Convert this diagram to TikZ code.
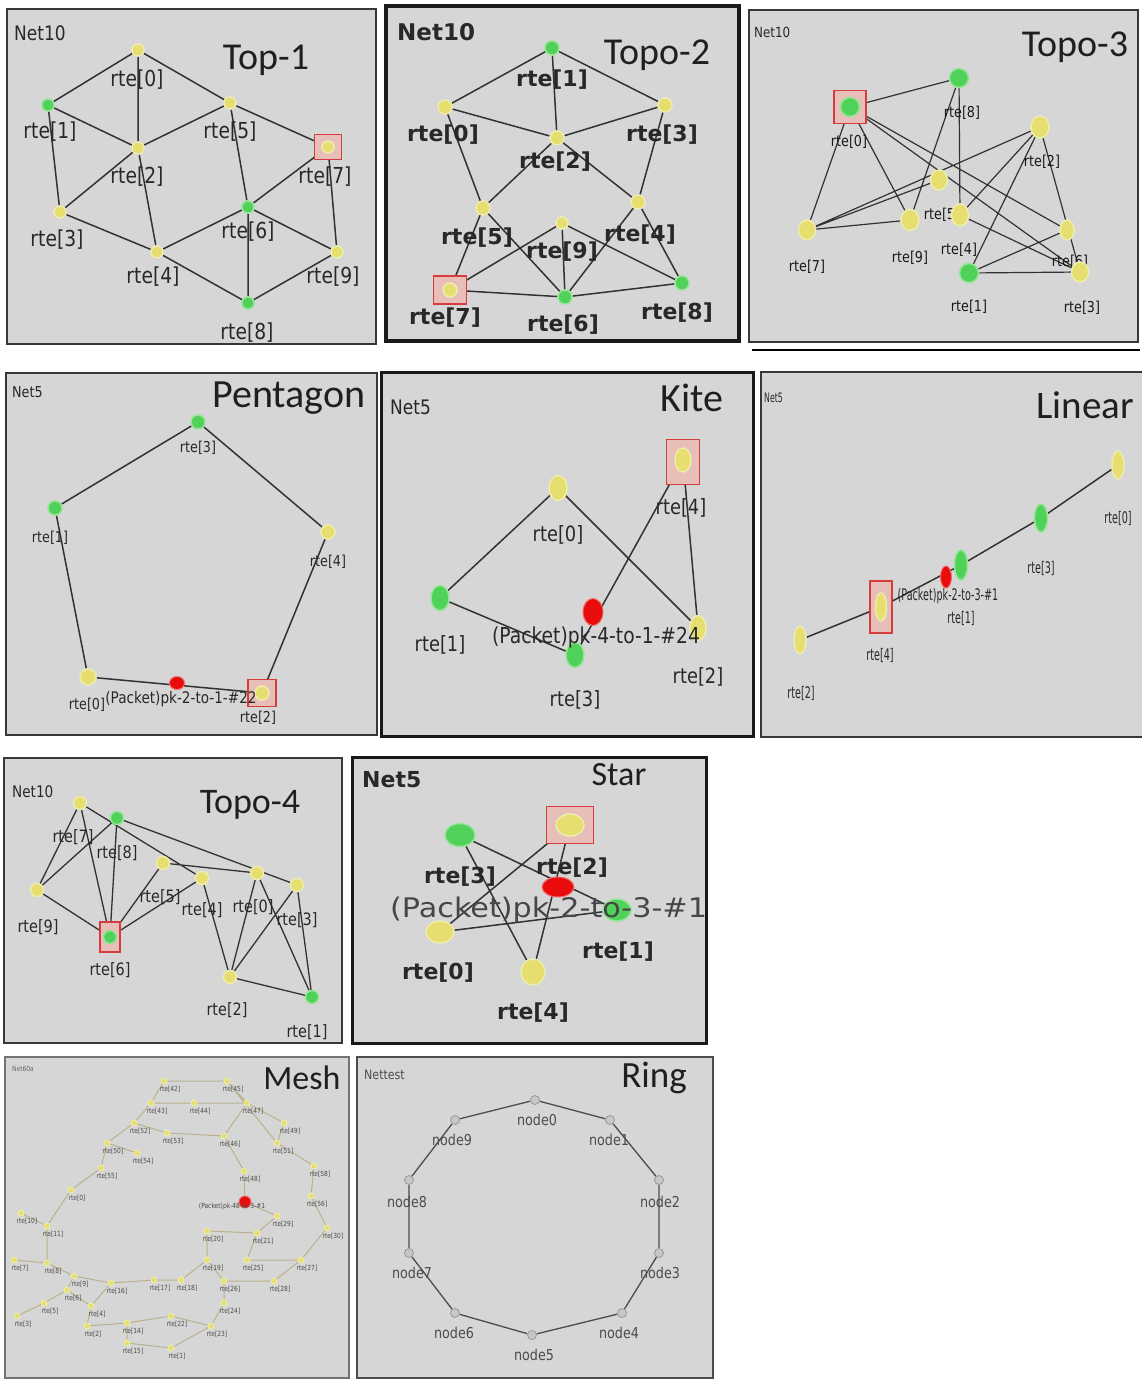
\documentclass[tikz,border=0pt]{standalone}
\usepackage{fontspec}
\setmainfont{DejaVu Sans}
\newfontfamily\tfont{Carlito}
\newfontfamily\cfont[FakeStretch=0.85]{DejaVu Sans}
\newfontfamily\nfont[FakeStretch=0.6]{DejaVu Sans}
\newfontfamily\wfont[FakeStretch=1.12]{DejaVu Sans}
\usetikzlibrary{shapes.geometric}
\newcommand\fs[1]{\fontsize{#1}{#1}\selectfont}
\definecolor{panelgray}{RGB}{214,214,214}
\definecolor{ynode}{RGB}{230,222,110}
\definecolor{yhalo}{RGB}{238,236,175}
\definecolor{gnode}{RGB}{80,210,90}
\definecolor{ghalo}{RGB}{150,228,150}
\definecolor{rnode}{RGB}{232,12,12}
\definecolor{edgec}{RGB}{50,50,50}
\definecolor{labc}{RGB}{40,40,40}
\definecolor{redsqc}{RGB}{215,60,60}
\definecolor{redsqf}{RGB}{232,190,185}
\definecolor{meshc}{RGB}{185,178,140}
\pgfdeclarelayer{back}
\pgfdeclarelayer{mid}
\pgfsetlayers{back,mid,main}
\newcommand\mkn[5]{\node[#2] (#1) at (#3) {}; \node[lab] (#1l) at (#4) {#5};}
\newcommand\rsq[4]{\node[redsq,minimum width=#3pt,minimum height=#4pt] (#1) at (#2) {};}
\tikzset{
 panel/.style={fill=panelgray, draw=black!78, line width=2.5pt},
 yn/.style={circle, fill=ynode, draw=yhalo, line width=1.5pt, inner sep=0pt, minimum size=#1},
 yn/.default=12pt,
 gn/.style={circle, fill=gnode, draw=ghalo, line width=1.5pt, inner sep=0pt, minimum size=#1},
 gn/.default=12pt,
 rn/.style={circle, fill=rnode, draw=rnode!60, line width=1pt, inner sep=0pt, minimum size=#1},
 rn/.default=12pt,
 lnk/.style={draw=edgec, line width=1.5pt},
 redsq/.style={rectangle, draw=redsqc, fill=redsqf, line width=1.6pt, inner sep=0pt},
 title/.style={font=\tfont\fs{38}, text=black!88, inner sep=0pt},
 netl/.style={anchor=west, text=labc, inner sep=0pt},
 lab/.style={font=\cfont\fs{20}, text=labc, inner sep=0pt}
}
\begin{document}
\begin{tikzpicture}[x=1pt,y=-1pt]
\useasboundingbox (0,0) rectangle (1142,1381);
\begin{pgfonlayer}{back}
\fill[white] (0,0) rectangle (1142,1381);
\draw[panel] (7,9) rectangle (376,344);
\draw[panel, line width=3.5pt, draw=black!90] (386,6) rectangle (739,341);
\draw[panel, line width=2pt] (749,10) rectangle (1138,342);
\draw[black, line width=2.5pt] (752,350) -- (1140,350);
\draw[panel] (6,373) rectangle (377,735);
\draw[panel, line width=3pt, draw=black!90] (381,372) rectangle (753,736);
\draw[panel] (761,372) rectangle (1150,737);
\draw[panel] (4,758) rectangle (342,1043);
\draw[panel, line width=3pt, draw=black!90] (352,757) rectangle (706,1043);
\draw[panel, line width=2pt, draw=black!55] (5,1057) rectangle (349,1378);
\draw[panel, line width=2pt, draw=black!70] (357,1057) rectangle (713,1378);
\end{pgfonlayer}

% ---------- Top-1 ----------
\begin{scope}[lab/.style={font=\cfont\fs{22}, text=labc, inner sep=0pt}]
\node[netl, font=\cfont\fs{20}] (anet) at (14,33) {Net10};
\node[title] (atitle) at (266,60) {Top-1};
\rsq{a7s}{328,147}{27}{25}
\mkn{a0}{yn}{138,50}{137,80}{rte[0]}
\mkn{a1}{gn}{48,105}{50,132}{rte[1]}
\mkn{a5}{yn}{230,103}{230,132}{rte[5]}
\mkn{a7}{yn}{328,147}{325,177}{rte[7]}
\mkn{a2}{yn}{138,148}{137,177}{rte[2]}
\mkn{a3}{yn}{60,212}{57,240}{rte[3]}
\mkn{a6}{gn}{248,207}{248,232}{rte[6]}
\mkn{a4}{yn}{157,252}{153,277}{rte[4]}
\mkn{a9}{yn}{337,252}{333,277}{rte[9]}
\mkn{a8}{gn}{248,303}{247,333}{rte[8]}
\begin{pgfonlayer}{mid}
\draw[lnk] (a0)--(a1) (a0)--(a2) (a0)--(a5) (a1)--(a2) (a1)--(a3) (a2)--(a3)
 (a2)--(a5) (a2)--(a4) (a5)--(a7) (a5)--(a6) (a7)--(a6) (a7)--(a9) (a6)--(a4)
 (a6)--(a9) (a6)--(a8) (a3)--(a4) (a4)--(a8) (a9)--(a8);
\end{pgfonlayer}
\end{scope}

% ---------- Topo-2 ----------
\begin{scope}[lab/.style={font=\bfseries\fs{22}, text=labc, inner sep=0pt}]
\node[netl, font=\bfseries\fs{23}] (bnet) at (397,32) {Net10};
\node[title] (btitle) at (657,55) {Topo-2};
\rsq{b7s}{450,290}{33}{28}
\mkn{b1}{gn=14pt}{552,48}{552,80}{rte[1]}
\mkn{b0}{yn=14pt}{445,107}{443,135}{rte[0]}
\mkn{b3}{yn=14pt}{665,105}{662,135}{rte[3]}
\mkn{b2}{yn=14pt}{557,138}{555,162}{rte[2]}
\mkn{b5}{yn=14pt}{483,208}{477,238}{rte[5]}
\mkn{b4}{yn=14pt}{638,202}{640,235}{rte[4]}
\mkn{b9}{yn=12pt}{562,223}{562,252}{rte[9]}
\mkn{b7}{yn=14pt}{450,290}{445,318}{rte[7]}
\mkn{b6}{gn=14pt}{565,297}{563,325}{rte[6]}
\mkn{b8}{gn=14pt}{682,283}{677,313}{rte[8]}
\begin{pgfonlayer}{mid}
\draw[lnk] (b1)--(b0) (b1)--(b2) (b1)--(b3) (b0)--(b2) (b2)--(b3) (b0)--(b5)
 (b2)--(b5) (b2)--(b4) (b3)--(b4) (b5)--(b7) (b5)--(b6) (b9)--(b7) (b9)--(b6)
 (b9)--(b8) (b4)--(b6) (b4)--(b8) (b7)--(b6) (b6)--(b8);
\end{pgfonlayer}
\end{scope}

% ---------- Topo-3 ----------
\begin{scope}[lab/.style={font=\cfont\fs{15}, text=black!90, inner sep=0pt}, lnk/.style={draw=edgec, line width=1.2pt}]
\node[netl, font=\cfont\fs{14}] (cnet) at (754,32) {Net10};
\node[title] (ctitle) at (1075,47) {Topo-3};
\rsq{c0s}{850,107}{32}{33}
\mkn{c0}{gn=19pt}{850,107}{849,142}{rte[0]}
\mkn{c8}{gn=19pt}{959,78}{962,113}{rte[8]}
\mkn{c2}{yn,ellipse,minimum width=18pt,minimum height=22pt}{1040,127}{1042,162}{rte[2]}
\mkn{c5}{yn,ellipse,minimum width=17pt,minimum height=20pt}{939,180}{942,215}{rte[5]}
\mkn{c4}{yn,ellipse,minimum width=17pt,minimum height=22pt}{960,215}{959,250}{rte[4]}
\mkn{c9}{yn,ellipse,minimum width=18pt,minimum height=21pt}{910,220}{910,258}{rte[9]}
\mkn{c7}{yn,ellipse,minimum width=17pt,minimum height=20pt}{807,230}{807,267}{rte[7]}
\mkn{c6}{yn,ellipse,minimum width=14pt,minimum height=20pt}{1067,230}{1070,262}{rte[6]}
\mkn{c1}{gn=19pt}{969,273}{969,307}{rte[1]}
\mkn{c3}{yn,ellipse,minimum width=17pt,minimum height=20pt}{1080,272}{1082,308}{rte[3]}
\begin{pgfonlayer}{mid}
\draw[lnk] (c0)--(c8) (c0)--(c7) (c0)--(c9) (c0)--(c6) (c0)--(c3) (c8)--(c9)
 (c8)--(c4) (c2)--(c7) (c2)--(c4) (c2)--(c1) (c2)--(c3) (c7)--(c9) (c7)--(c5)
 (c1)--(c6) (c1)--(c3) (c4)--(c3);
\end{pgfonlayer}
\end{scope}

% ---------- Pentagon ----------
\begin{scope}[lab/.style={font=\cfont\fs{15}, text=labc, inner sep=0pt}]
\node[netl, font=\cfont\fs{15}] (dnet) at (12,392) {Net5};
\node[title, font=\tfont\fs{40}] (dtitle) at (289,398) {Pentagon};
\rsq{d2s}{262,693}{28}{27}
\mkn{d3}{gn=14pt}{198,422}{198,448}{rte[3]}
\mkn{d1}{gn=14pt}{55,508}{50,538}{rte[1]}
\mkn{d4}{yn=14pt}{328,532}{328,562}{rte[4]}
\mkn{d0}{yn=16pt}{88,677}{87,705}{rte[0]}
\mkn{d2}{yn=14pt}{262,693}{258,718}{rte[2]}
\node[rn, ellipse, minimum width=15pt, minimum height=13pt] (dp) at (177,683) {};
\node[lab, font=\cfont\fs{16}] (dpl) at (181,699) {(Packet)pk-2-to-1-\#22};
\begin{pgfonlayer}{mid}
\draw[lnk] (d3)--(d1) (d3)--(d4) (d1)--(d0) (d4)--(d2) (d0)--(d2);
\end{pgfonlayer}
\end{scope}

% ---------- Kite ----------
\begin{scope}[lab/.style={font=\cfont\fs{21}, text=labc, inner sep=0pt}]
\node[netl, font=\cfont\fs{20}] (enet) at (390,407) {Net5};
\node[title, font=\tfont\fs{40}] (etitle) at (692,398) {Kite};
\rsq{e4s}{683,462}{33}{45}
\mkn{e0}{yn,ellipse,minimum width=18pt,minimum height=25pt}{558,488}{558,535}{rte[0]}
\mkn{e4}{yn,ellipse,minimum width=16pt,minimum height=24pt}{683,460}{681,508}{rte[4]}
\mkn{e1}{gn,ellipse,minimum width=18pt,minimum height=25pt}{440,598}{440,645}{rte[1]}
\mkn{e3}{gn,ellipse,minimum width=18pt,minimum height=25pt}{575,655}{575,700}{rte[3]}
\mkn{e2}{yn,ellipse,minimum width=16pt,minimum height=25pt}{698,628}{698,677}{rte[2]}
\node[rn, ellipse, minimum width=20pt, minimum height=27pt] (ep) at (593,612) {};
\node[lab, font=\cfont\fs{22}] (epl) at (596,637) {(Packet)pk-4-to-1-\#24};
\begin{pgfonlayer}{mid}
\draw[lnk] (e0)--(e1) (e0)--(e2) (e4)--(e2) (e4)--(e3) (e1)--(e3);
\end{pgfonlayer}
\end{scope}

% ---------- Linear ----------
\begin{scope}[lab/.style={font=\nfont\fs{16}, text=labc, inner sep=0pt}]
\node[netl, font=\nfont\fs{13}] (fnet) at (764,398) {Net5};
\node[title, font=\tfont\fs{39}] (ftitle) at (1085,405) {Linear};
\rsq{f4s}{881,607}{22}{52}
\mkn{f2}{yn,ellipse,minimum width=12pt,minimum height=28pt}{800,640}{801,693}{rte[2]}
\mkn{f4}{yn,ellipse,minimum width=11pt,minimum height=28pt}{881,607}{880,655}{rte[4]}
\mkn{f1}{gn,ellipse,minimum width=13pt,minimum height=30pt}{961,565}{961,618}{rte[1]}
\mkn{f3}{gn,ellipse,minimum width=13pt,minimum height=28pt}{1041,518}{1041,568}{rte[3]}
\mkn{f0}{yn,ellipse,minimum width=12pt,minimum height=28pt}{1118,465}{1118,518}{rte[0]}
\node[rn, ellipse, minimum width=11pt, minimum height=22pt] (fp) at (946,577) {};
\node[lab] (fpl) at (948,596) {(Packet)pk-2-to-3-\#1};
\begin{pgfonlayer}{mid}
\draw[lnk] (f2)--(f4) (f4)--(f1) (f1)--(f3) (f3)--(f0);
\end{pgfonlayer}
\end{scope}

% ---------- Topo-4 ----------
\begin{scope}[lab/.style={font=\cfont\fs{17}, text=labc, inner sep=0pt}, lnk/.style={draw=edgec, line width=1.3pt}]
\node[netl, font=\cfont\fs{16}] (gnet) at (12,792) {Net10};
\node[title, font=\tfont\fs{36}] (gtitle) at (250,805) {Topo-4};
\rsq{g6s}{110,937}{20}{30}
\mkn{g7}{yn=13pt}{80,803}{73,837}{rte[7]}
\mkn{g8}{gn=13pt}{117,818}{117,853}{rte[8]}
\mkn{g9}{yn=13pt}{37,890}{38,927}{rte[9]}
\mkn{g6}{gn=13pt}{110,937}{110,970}{rte[6]}
\mkn{g5}{yn=13pt}{163,863}{160,897}{rte[5]}
\mkn{g4}{yn=13pt}{202,878}{202,910}{rte[4]}
\mkn{g0}{yn=13pt}{257,873}{253,907}{rte[0]}
\mkn{g3}{yn=13pt}{297,885}{297,920}{rte[3]}
\mkn{g2}{yn=13pt}{230,977}{227,1010}{rte[2]}
\mkn{g1}{gn=13pt}{312,997}{307,1032}{rte[1]}
\begin{pgfonlayer}{mid}
\draw[lnk] (g7)--(g9) (g7)--(g6) (g7)--(g4) (g8)--(g3) (g5)--(g0) (g8)--(g9)
 (g8)--(g6) (g9)--(g6) (g5)--(g6) (g4)--(g6) (g4)--(g2) (g0)--(g2) (g3)--(g2)
 (g0)--(g1) (g3)--(g1) (g2)--(g1);
\end{pgfonlayer}
\end{scope}

% ---------- Star ----------
\begin{scope}[lab/.style={font=\bfseries\fs{22}, text=labc, inner sep=0pt}]
\node[netl, font=\bfseries\fs{22}] (hnet) at (362,780) {Net5};
\node[title, font=\tfont\fs{34}] (htitle) at (619,775) {Star};
\rsq{h2s}{570,825}{47}{37}
\mkn{h3}{gn,ellipse,minimum width=30pt,minimum height=23pt}{460,835}{460,877}{rte[3]}
\mkn{h2}{yn,ellipse,minimum width=28pt,minimum height=22pt}{570,825}{572,868}{rte[2]}
\mkn{h1}{gn,ellipse,minimum width=28pt,minimum height=22pt}{617,910}{618,952}{rte[1]}
\mkn{h0}{yn,ellipse,minimum width=28pt,minimum height=22pt}{440,932}{438,973}{rte[0]}
\mkn{h4}{yn,ellipse,minimum width=24pt,minimum height=26pt}{533,972}{533,1013}{rte[4]}
\node[rn, ellipse, minimum width=32pt, minimum height=20pt] (hp) at (558,887) {};
\node[lab, font=\wfont\fs{27}, text=black!72, anchor=west] (hpl) at (390,910) {(Packet)pk-2-to-3-\#1};
\begin{pgfonlayer}{mid}
\draw[lnk] (h3)--(h4) (h3)--(h1) (h2)--(h0) (h2)--(h4) (h0)--(h1);
\end{pgfonlayer}
\end{scope}

% ---------- Mesh ----------
\begin{scope}[lab/.style={font=\cfont\fs{7}, text=black!70, inner sep=0pt},
 mdot/.style={circle, fill=ynode, draw=yhalo, line width=0.8pt, inner sep=0pt, minimum size=6pt},
 mlnk/.style={draw=meshc, line width=1pt}]
\node[netl, font=\cfont\fs{7}, text=black!60] (mnet) at (12,1069) {Net60a};
\node[title, font=\tfont\fs{34}] (mtitle) at (302,1078) {Mesh};
\foreach \n/\x/\y in {42/170/1088, 45/233/1088, 43/157/1110, 44/200/1110, 47/253/1110,
 52/140/1130, 53/173/1140, 49/290/1130, 46/230/1143, 50/113/1150, 54/143/1160,
 51/283/1150, 55/107/1175, 48/250/1178, 58/320/1173, 0/77/1197, 56/317/1203,
 10/27/1220, 11/53/1233, 29/283/1223, 30/333/1235, 20/213/1238, 21/263/1240,
 7/20/1267, 8/53/1270, 9/80/1283, 19/213/1267, 25/253/1267, 27/307/1267,
 16/117/1290, 17/160/1287, 18/187/1287, 26/230/1288, 28/280/1288, 6/73/1297,
 5/50/1310, 4/97/1313, 24/230/1310, 3/23/1323, 22/177/1323, 14/133/1330,
 2/93/1333, 23/217/1333, 15/133/1350, 1/177/1355}
 {\node[mdot] (m\n) at (\x-6,\y-7) {}; \node[lab] (m\n-l) at (\x,\y+1) {rte[\n]};}
\node[rn=12pt] (mp) at (245,1202) {};
\node[lab] (mpl) at (232,1207) {(Packet)pk-48-to-3-\#1};
\begin{pgfonlayer}{mid}
\draw[mlnk] (m42)--(m45) (m42)--(m43) (m43)--(m44) (m44)--(m47) (m45)--(m47)
 (m43)--(m52) (m52)--(m53) (m52)--(m50) (m50)--(m54) (m53)--(m46) (m46)--(m48)
 (m47)--(m49) (m49)--(m51) (m51)--(m58) (m47)--(m46) (m50)--(m55) (m55)--(m0)
 (m0)--(m11) (m10)--(m11) (m11)--(m8) (m8)--(m7) (m8)--(m9) (m9)--(m6) (m6)--(m5)
 (m6)--(m4) (m5)--(m3) (m4)--(m2) (m4)--(m16) (m16)--(m17) (m17)--(m18)
 (m18)--(m19) (m19)--(m20) (m20)--(m21) (m21)--(m25) (m25)--(m27) (m27)--(m30)
 (m30)--(m56) (m56)--(m58) (m48)--(mp) (mp)--(m29) (m29)--(m21) (m19)--(m26)
 (m26)--(m24) (m24)--(m23) (m23)--(m22) (m22)--(m14) (m14)--(m15) (m15)--(m1)
 (m1)--(m23) (m28)--(m26) (m28)--(m27) (m2)--(m14) (m9)--(m16) (m45)--(m51);
\end{pgfonlayer}
\end{scope}

% ---------- Ring ----------
\begin{scope}[lab/.style={font=\cfont\fs{15}, text=black!70, inner sep=0pt},
 rdot/.style={circle, fill=black!22, draw=black!40, line width=0.8pt, inner sep=0pt, minimum size=9pt},
 lnk/.style={draw=black!70, line width=1.3pt}]
\node[netl, font=\cfont\fs{13}, text=black!70] (rnet) at (364,1075) {Nettest};
\node[title, font=\tfont\fs{37}] (rtitle) at (654,1078) {Ring};
\mkn{r0}{rdot}{535,1100}{537,1120}{node0}
\mkn{r1}{rdot}{610,1120}{609,1140}{node1}
\mkn{r2}{rdot}{659,1180}{660,1202}{node2}
\mkn{r3}{rdot}{659,1253}{660,1273}{node3}
\mkn{r4}{rdot}{622,1313}{619,1333}{node4}
\mkn{r5}{rdot}{532,1335}{534,1355}{node5}
\mkn{r6}{rdot}{455,1313}{454,1333}{node6}
\mkn{r7}{rdot}{409,1253}{412,1273}{node7}
\mkn{r8}{rdot}{409,1180}{407,1202}{node8}
\mkn{r9}{rdot}{455,1120}{452,1140}{node9}
\begin{pgfonlayer}{mid}
\draw[lnk] (r0)--(r1)--(r2)--(r3)--(r4)--(r5)--(r6)--(r7)--(r8)--(r9)--(r0);
\end{pgfonlayer}
\end{scope}
\end{tikzpicture}
\end{document}
